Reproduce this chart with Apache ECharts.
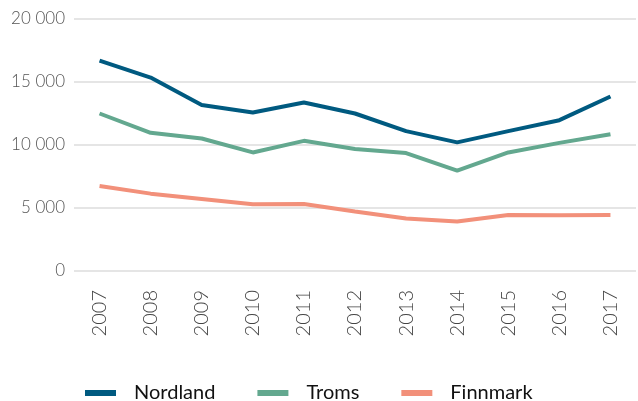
<!DOCTYPE html>
<html>
<head>
<meta charset="utf-8">
<script src="https://cdn.jsdelivr.net/npm/echarts@6/dist/echarts.min.js"></script>
<style>
  html, body { margin: 0; padding: 0; background: #fff; }
  #chart { width: 638px; height: 401px; }
</style>
</head>
<body>
<div id="chart"></div>
<script>
let years = ["2007", "2008", "2009", "2010", "2011", "2012", "2013", "2014", "2015", "2016", "2017"];
let nordland = [16700, 15350, 13180, 12580, 13370, 12500, 11100, 10210, 11100, 11970, 13850];
let troms = [12500, 10970, 10520, 9410, 10330, 9680, 9360, 7960, 9410, 10170, 10860];
let finnmark = [6750, 6140, 5720, 5300, 5320, 4720, 4160, 3920, 4450, 4430, 4450];

let seriesNames = ["Nordland", "Troms", "Finnmark"];
let seriesColors = ["#005a80", "#63a88f", "#f2907a"];
let seriesData = [nordland, troms, finnmark];

let chart = echarts.init(document.getElementById("chart"), null, { renderer: "canvas" });

function spaced(v) {
  // thousands separated by a space
  return String(v).replace(/\B(?=(\d{3})+(?!\d))/g, " ");
}

let option = {
  animation: false,
  backgroundColor: "#fff",
  grid: { left: 74, right: 2, top: 19, height: 252 },
  xAxis: {
    type: "category",
    data: years,
    boundaryGap: true,
    axisLine: { show: false },
    axisTick: { show: false },
    axisLabel: {
      rotate: 90,
      margin: 19,
      color: "#444",
      fontFamily: "Lato",
      fontWeight: 300,
      fontSize: 20
    }
  },
  yAxis: {
    type: "value",
    min: 0,
    max: 20000,
    interval: 5000,
    axisLine: { show: false },
    axisTick: { show: false },
    splitLine: { lineStyle: { color: "#dcdcdc", width: 1.5 } },
    axisLabel: {
      margin: 9,
      color: "#555",
      fontFamily: "Lato",
      fontWeight: 300,
      fontSize: 17,
      formatter: spaced
    }
  },
  legend: {
    top: 378,
    left: 80,
    icon: "rect",
    itemWidth: 31,
    itemHeight: 6,
    itemGap: 42,
    textStyle: {
      color: "#111",
      fontFamily: "Lato",
      fontSize: 20,
      padding: [0, 0, 0, 13]
    },
    data: seriesNames
  },
  series: seriesNames.map(function(name, idx) {
    return {
      name: name,
      type: "line",
      data: seriesData[idx],
      symbol: "none",
      color: seriesColors[idx],
      lineStyle: { width: 4, color: seriesColors[idx] }
    };
  })
};

chart.setOption(option);
</script>
</body>
</html>
